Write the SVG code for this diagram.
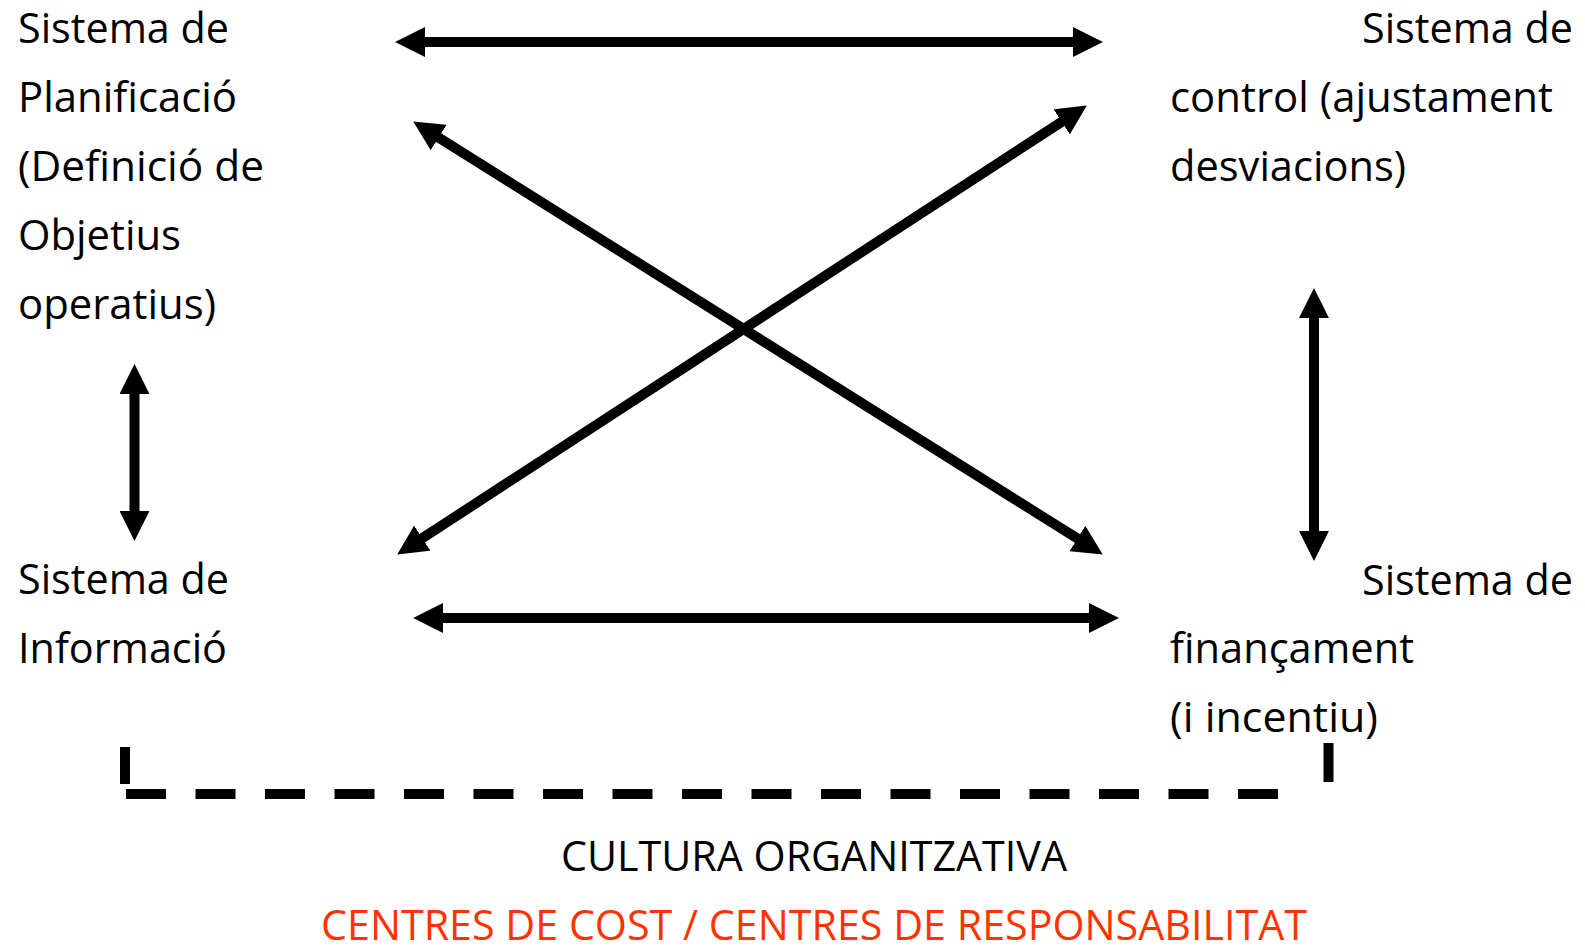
<svg xmlns="http://www.w3.org/2000/svg" width="1585" height="950" viewBox="0 0 1585 950">
<style>
  text { font-family: "Open Sans", "Noto Sans", "Liberation Sans", sans-serif; font-size: 42px; fill: #000; }
  .red { fill: #ff3300; }
  .conn { stroke: #000; stroke-width: 10; fill: none; marker-start: url(#ah); marker-end: url(#ah); }
  .bar { stroke: #000; stroke-width: 10; fill: none; }
</style>
<defs>
  <marker id="ah" markerUnits="userSpaceOnUse" markerWidth="30" markerHeight="30" refX="2" refY="14.5" orient="auto-start-reverse" viewBox="0 0 29 29">
    <path d="M0,0 L29,14.5 L0,29 z" fill="#000"/>
  </marker>
</defs>
<rect width="1585" height="950" fill="#fff"/>
<g id="connectors">
  <line class="conn" x1="423" y1="42" x2="1075" y2="42"/>
  <line class="conn" x1="441" y1="618" x2="1091" y2="618"/>
  <line class="conn" x1="134.5" y1="392" x2="134.5" y2="513"/>
  <line class="conn" x1="1314" y1="316" x2="1314" y2="533"/>
  <line class="conn" x1="436.9" y1="136.4" x2="1079.1" y2="539.6"/>
  <line class="conn" x1="420.6" y1="539.3" x2="1063.4" y2="120.7"/>
</g>
<g id="culture-bracket">
  <line class="bar" x1="125" y1="747" x2="125" y2="784"/>
  <line class="bar" x1="1328.5" y1="743" x2="1328.5" y2="782" stroke-width="9"/>
  <line class="bar" x1="126" y1="794" x2="1278" y2="794" stroke-dasharray="40 29.5"/>
</g>
<g id="node-planificacio">
  <text x="18" y="43" textLength="211" lengthAdjust="spacingAndGlyphs">Sistema de</text>
  <text x="18" y="112" textLength="219" lengthAdjust="spacingAndGlyphs">Planificació</text>
  <text x="18" y="181" textLength="246" lengthAdjust="spacingAndGlyphs">(Definició de</text>
  <text x="18" y="250" textLength="163" lengthAdjust="spacingAndGlyphs">Objetius</text>
  <text x="18" y="319" textLength="198" lengthAdjust="spacingAndGlyphs">operatius)</text>
</g>
<g id="node-informacio">
  <text x="18" y="594" textLength="211" lengthAdjust="spacingAndGlyphs">Sistema de</text>
  <text x="18" y="663" textLength="209" lengthAdjust="spacingAndGlyphs">Informació</text>
</g>
<g id="node-control">
  <text x="1362" y="43" textLength="211" lengthAdjust="spacingAndGlyphs">Sistema de</text>
  <text x="1170" y="112" textLength="383" lengthAdjust="spacingAndGlyphs">control (ajustament</text>
  <text x="1170" y="181" textLength="236" lengthAdjust="spacingAndGlyphs">desviacions)</text>
</g>
<g id="node-financament">
  <text x="1362" y="595" textLength="211" lengthAdjust="spacingAndGlyphs">Sistema de</text>
  <text x="1170" y="663" textLength="244" lengthAdjust="spacingAndGlyphs">finançament</text>
  <text x="1170" y="732" textLength="208" lengthAdjust="spacingAndGlyphs">(i incentiu)</text>
</g>
<g id="labels">
  <text x="561" y="871" textLength="506" lengthAdjust="spacingAndGlyphs">CULTURA ORGANITZATIVA</text>
  <text class="red" x="321" y="940" textLength="986" lengthAdjust="spacingAndGlyphs">CENTRES DE COST / CENTRES DE RESPONSABILITAT</text>
</g>
</svg>
